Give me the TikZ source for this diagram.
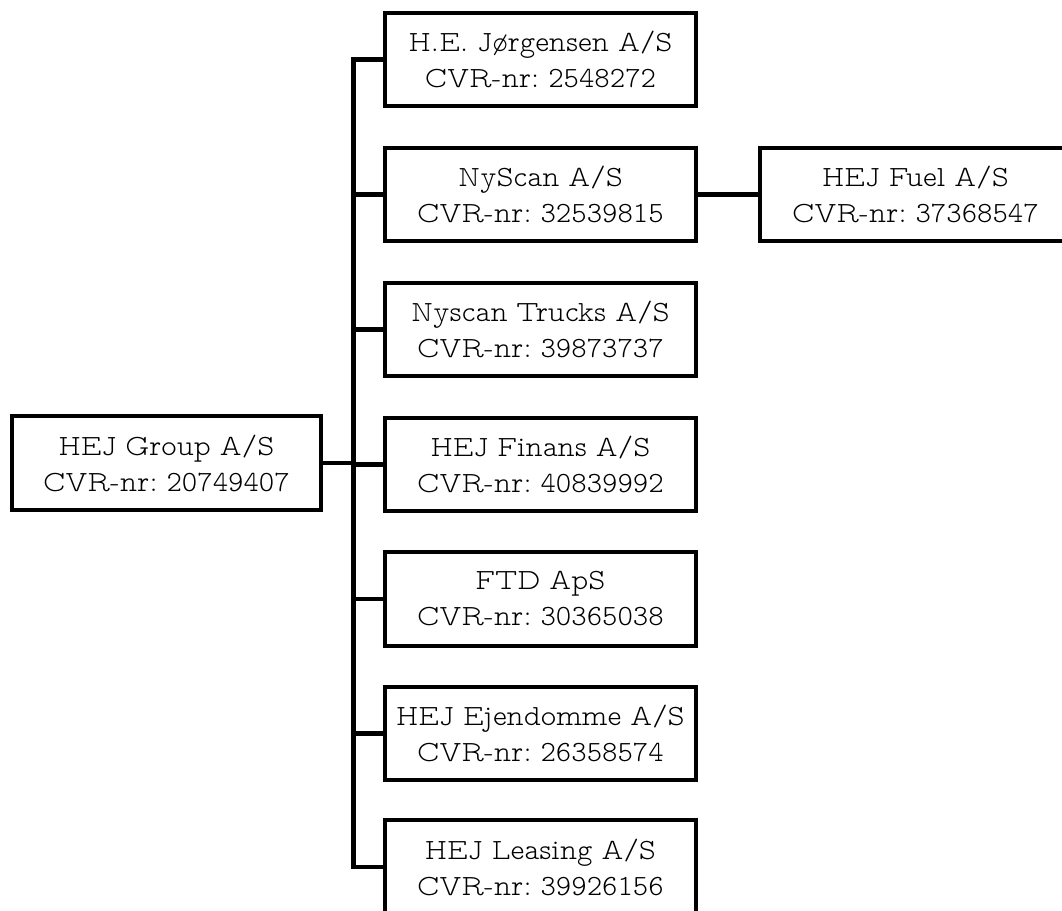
\documentclass[tikz,border=0pt]{standalone}
\usepackage{fontspec}
\setmainfont{Latin Modern Mono Prop Light}[WordSpace=0.85]
\frenchspacing
\begin{document}
\begin{tikzpicture}[x=0.75pt,y=-0.75pt,
  company/.style={draw=black,line width=3.2pt,minimum width=233.25pt,minimum height=70pt,
    inner sep=0pt,align=center,font=\fontsize{22}{27}\selectfont\frenchspacing},
  link/.style={line width=3.2pt,line join=miter,line cap=rect}]
\useasboundingbox (0,0) rectangle (1062,910);
\node[company,minimum width=231.75pt] (root) at (166.5,463) {HEJ Group A/S\\CVR-nr: 20749407};
\node[company] (c1) at (540.5,59.5) {H.E. Jørgensen A/S\\CVR-nr: 2548272};
\node[company] (c2) at (540.5,194.5) {NyScan A/S\\CVR-nr: 32539815};
\node[company] (c3) at (540.5,329.5) {Nyscan Trucks A/S\\CVR-nr: 39873737};
\node[company] (c4) at (540.5,464.5) {HEJ Finans A/S\\CVR-nr: 40839992};
\node[company] (c5) at (540.5,599) {FTD ApS\\CVR-nr: 30365038};
\node[company] (c6) at (540.5,733.5) {HEJ Ejendomme A/S\\CVR-nr: 26358574};
\node[company] (c7) at (540.5,867) {HEJ Leasing A/S\\CVR-nr: 39926156};
\node[company] (f1) at (915.5,194.5) {HEJ Fuel A/S\\CVR-nr: 37368547};
\coordinate (bus) at (353.5,0);
\draw[link] (c1.west) -- (c1.west -| bus) -- (c7.west -| bus) -- (c7.west);
\draw[link] (root.east) -- (root.east -| bus);
\foreach \c in {c2,c3,c4,c5,c6}{\draw[link] (\c.west) -- (\c.west -| bus);}
\draw[link] (c2.east) -- (f1.west);
\end{tikzpicture}
\end{document}
